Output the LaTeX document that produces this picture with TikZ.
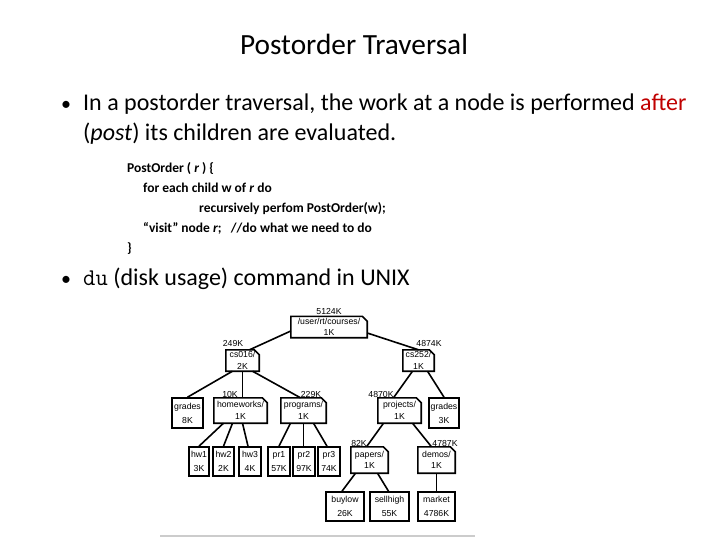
\documentclass[tikz,border=0pt]{standalone}
\usepackage{fontspec}
\setmainfont{Carlito}
\newfontfamily\treefont{Liberation Sans}
\definecolor{slidered}{RGB}{192,0,0}
\newcommand\folderoutline[1]{\draw[folder] (#1.south west) -- (#1.north west) -- ([xshift=-5pt]#1.north east) -- ([yshift=-5pt]#1.north east) -- (#1.south east) -- cycle;}
\begin{document}
\begin{tikzpicture}[x=1pt,y=1pt,
  slidetext/.style={anchor=base west, inner sep=0, font=\fontsize{24}{28}\selectfont},
  bulletmark/.style={anchor=base, inner sep=0, font=\fontsize{20}{24}\selectfont},
  codetext/.style={anchor=base west, inner sep=0, font=\bfseries\fontsize{13.5}{16}\selectfont},
  dirbox/.style={inner sep=0, align=center, font=\treefont\fontsize{8.7}{11.5}\selectfont},
  filebox/.style={draw, line width=1.6pt, inner sep=0, align=center, font=\treefont\fontsize{8.7}{14}\selectfont},
  sizelabel/.style={anchor=base, inner sep=0, font=\treefont\fontsize{8.7}{10}\selectfont},
  edge/.style={line width=1.6pt},
  folder/.style={line width=1.6pt, line join=miter}]
\useasboundingbox (0,0) rectangle (720,-540);
\fill[white] (0,0) rectangle (720,-540);

% title and text
\node[anchor=base, inner sep=0, font=\fontsize{29.3}{33}\selectfont] (title) at (354,-55) {Postorder Traversal};
\node[bulletmark] (b1) at (66,-111) {•};
\node[slidetext] (t1) at (83,-111) {In a postorder traversal, the work at a node is performed \textcolor{slidered}{after}};
\node[slidetext] (t2) at (83,-141) {(\textit{post}) its children are evaluated.};

\node[codetext] (c1) at (127,-173) {PostOrder ( \textit{r} ) \{};
\node[codetext] (c2) at (143,-193) {for each child w of \textit{r} do};
\node[codetext] (c3) at (199,-213) {recursively perfom PostOrder(w);};
\node[codetext] (c4) at (143,-233) {“visit” node \textit{r};\ \ \ //do what we need to do};
\node[codetext] (c5) at (127,-252) {\}};

\node[bulletmark] (b2) at (66,-285) {•};
\node[slidetext] (t3) at (83,-285) {{\ttfamily du} (disk usage) command in UNIX};

% tree nodes
\node[dirbox, minimum width=76pt, minimum height=21pt] (root) at (329,-327) {/user/rt/courses/\\1K};
\node[dirbox, minimum width=33pt, minimum height=21pt] (cs016) at (242.5,-360.5) {cs016/\\2K};
\node[dirbox, minimum width=31pt, minimum height=21pt] (cs252) at (418.5,-360.5) {cs252/\\1K};
\node[filebox, minimum width=31pt, minimum height=30pt] (gradesL) at (187.5,-413) {grades\\8K};
\node[dirbox, minimum width=53pt, minimum height=25pt] (homeworks) at (240.5,-410.5) {homeworks/\\1K};
\node[dirbox, minimum width=45pt, minimum height=25pt] (programs) at (303.5,-410.5) {programs/\\1K};
\node[dirbox, minimum width=43pt, minimum height=25pt] (projects) at (399.5,-410.5) {projects/\\1K};
\node[filebox, minimum width=30pt, minimum height=30pt] (gradesR) at (444,-413) {grades\\3K};
\node[filebox, minimum width=20pt, minimum height=29pt] (hw1) at (199,-461.5) {hw1\\3K};
\node[filebox, minimum width=21pt, minimum height=29pt] (hw2) at (223.5,-461.5) {hw2\\2K};
\node[filebox, minimum width=22pt, minimum height=29pt] (hw3) at (250,-461.5) {hw3\\4K};
\node[filebox, minimum width=22pt, minimum height=29pt] (pr1) at (279,-461.5) {pr1\\57K};
\node[filebox, minimum width=22pt, minimum height=29pt] (pr2) at (304,-461.5) {pr2\\97K};
\node[filebox, minimum width=22pt, minimum height=29pt] (pr3) at (329,-461.5) {pr3\\74K};
\node[dirbox, minimum width=37pt, minimum height=26pt] (papers) at (369.5,-460) {papers/\\1K};
\node[dirbox, minimum width=37pt, minimum height=26pt] (demos) at (436.5,-460) {demos/\\1K};
\node[filebox, minimum width=38pt, minimum height=29pt] (buylow) at (345,-506.5) {buylow\\26K};
\node[filebox, minimum width=39pt, minimum height=29pt] (sellhigh) at (389.5,-506.5) {sellhigh\\55K};
\node[filebox, minimum width=37pt, minimum height=29pt] (market) at (436.5,-506.5) {market\\4786K};

\foreach \n in {root,cs016,cs252,homeworks,programs,projects,papers,demos} {\folderoutline{\n}}

% size labels
\node[sizelabel] (lroot) at (329,-314) {5124K};
\node[sizelabel] (lcs016) at (233,-346.5) {249K};
\node[sizelabel] (lcs252) at (429,-346.5) {4874K};
\node[sizelabel] (lhw) at (230,-397) {10K};
\node[sizelabel] (lprog) at (311,-397) {229K};
\node[sizelabel] (lproj) at (381,-397) {4870K};
\node[sizelabel] (lpap) at (359,-446.5) {82K};
\node[sizelabel] (ldem) at (445,-446.5) {4787K};

% edges
\draw[edge] ([yshift=-4pt]root.west) -- ([xshift=7pt]cs016.north);
\draw[edge] ([yshift=-6pt]root.east) -- (cs252.north);
\draw[edge] ([xshift=-10pt]cs016.south) -- (gradesL.north);
\draw[edge] (cs016.south) -- (cs016.south |- homeworks.north);
\draw[edge] ([xshift=10pt]cs016.south) -- ([xshift=-3pt]programs.north);
\draw[edge] ([xshift=-6pt]cs252.south) -- ([xshift=-6pt]projects.north);
\draw[edge] ([xshift=9pt]cs252.south) -- (gradesR.north);
\draw[edge] ([xshift=-17pt]homeworks.south) -- (hw1.north);
\draw[edge] ([xshift=-8pt]homeworks.south) -- (hw2.north);
\draw[edge] ([xshift=2pt]homeworks.south) -- ([xshift=-2pt]hw3.north);
\draw[edge] ([xshift=-13pt]programs.south) -- (pr1.north);
\draw[edge] (programs.south) -- (programs.south |- pr2.north);
\draw[edge] ([xshift=10pt]programs.south) -- ([xshift=-2pt]pr3.north);
\draw[edge] ([xshift=-16pt]projects.south) -- ([xshift=-3pt]papers.north);
\draw[edge] ([xshift=13pt]projects.south) -- ([xshift=-5pt]demos.north);
\draw[edge] ([xshift=-14pt]papers.south) -- ([xshift=-3pt]buylow.north);
\draw[edge] ([xshift=8pt]papers.south) -- ([xshift=-1pt]sellhigh.north);
\draw[edge] (demos.south) -- (demos.south |- market.north);

% faint scan edge at the bottom
\draw[gray!40, line width=1.5pt] (160,-536) -- (475,-536);
\end{tikzpicture}
\end{document}
